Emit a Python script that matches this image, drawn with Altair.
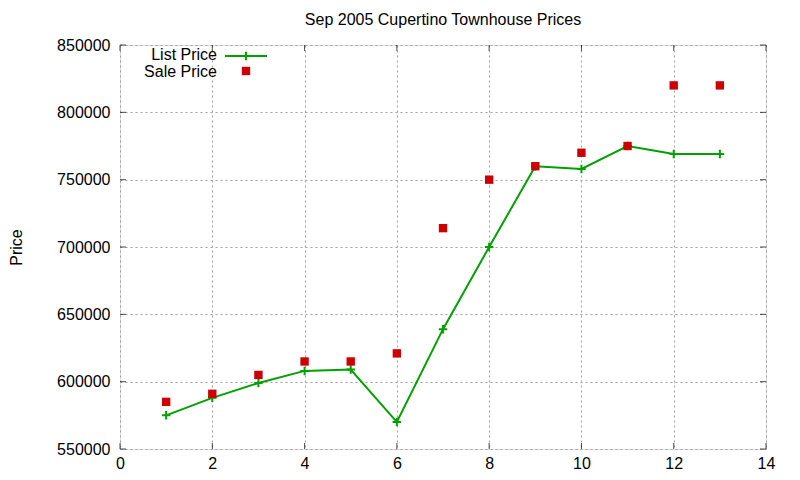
import altair as alt
import pandas as pd

# ---- data ----
lots = [1, 2, 3, 4, 5, 6, 7, 8, 9, 10, 11, 12, 13]
list_price = [575000, 588000, 599000, 608000, 609000, 570000, 639000,
              700000, 760000, 758000, 775000, 769000, 769000]
sale_price = [585000, 591000, 605000, 615000, 615000, 621000, 714000,
              750000, 760000, 770000, 775000, 820000, 820000]
x_ticks = [0, 2, 4, 6, 8, 10, 12, 14]
y_ticks = [550000, 600000, 650000, 700000, 750000, 800000, 850000]
series_names = ["List Price", "Sale Price"]

W, H = 646, 404
FONT = "Liberation Sans"
FS = 16
GREEN = "#00a000"
RED = "#cc0000"
PLUS = "M-1,0L1,0M0,-1L0,1"

df = pd.DataFrame({"x": lots, "list": list_price, "sale": sale_price})
xt = pd.DataFrame({"v": x_ticks})
yt = pd.DataFrame({"v": y_ticks})

xscale = alt.Scale(domain=[0, 14], nice=False, zero=False)
yscale = alt.Scale(domain=[550000, 850000], nice=False, zero=False)

grid_axis = dict(grid=True, gridColor="#a0a0a0", gridDash=[2, 3], gridWidth=1,
                 ticks=False, domain=False, labelFlush=False, labelOverlap=False,
                 labelFont=FONT, labelFontSize=FS,
                 labelColor="#000000", titleFont=FONT, titleFontSize=FS,
                 titleFontWeight="normal", titleColor="#000000")

base = alt.Chart(df)

line = base.mark_line(color=GREEN, strokeWidth=2).encode(
    x=alt.X("x:Q", scale=xscale,
            axis=alt.Axis(values=x_ticks, format="d", title=None, labelPadding=6,
                          **grid_axis)),
    y=alt.Y("list:Q", scale=yscale,
            axis=alt.Axis(values=y_ticks, format="d", title="Price", labelPadding=10,
                          titlePadding=32, **grid_axis)),
)
plus = base.mark_point(shape=PLUS, filled=False, color=GREEN, strokeWidth=2,
                       size=72, opacity=1).encode(
    x=alt.X("x:Q", scale=xscale), y=alt.Y("list:Q", scale=yscale))
squares = base.mark_square(color=RED, size=70, opacity=1).encode(
    x=alt.X("x:Q", scale=xscale), y=alt.Y("sale:Q", scale=yscale))

# inward mirrored ticks (gnuplot style)
TL = 6
tb = alt.Chart(xt).mark_tick(orient="vertical", color="black", thickness=1, size=TL).encode(
    x=alt.X("v:Q", scale=xscale), y=alt.value(H - TL / 2))
tt = alt.Chart(xt).mark_tick(orient="vertical", color="black", thickness=1, size=TL).encode(
    x=alt.X("v:Q", scale=xscale), y=alt.value(TL / 2))
tl = alt.Chart(yt).mark_tick(orient="horizontal", color="black", thickness=1, size=TL).encode(
    y=alt.Y("v:Q", scale=yscale), x=alt.value(TL / 2))
tr = alt.Chart(yt).mark_tick(orient="horizontal", color="black", thickness=1, size=TL).encode(
    y=alt.Y("v:Q", scale=yscale), x=alt.value(W - TL / 2))

# manual legend (label, then sample, gnuplot style)
leg1 = pd.DataFrame({"t": [series_names[0]]})
leg2 = pd.DataFrame({"t": [series_names[1]]})
lt1 = alt.Chart(leg1).mark_text(align="right", baseline="middle", font=FONT,
                                fontSize=FS, color="black").encode(
    x=alt.value(97), y=alt.value(10), text="t:N")
lt2 = alt.Chart(leg2).mark_text(align="right", baseline="middle", font=FONT,
                                fontSize=FS, color="black").encode(
    x=alt.value(97), y=alt.value(27), text="t:N")
lrule = alt.Chart(leg1).mark_rule(color=GREEN, strokeWidth=2).encode(
    x=alt.value(105), x2=alt.value(147), y=alt.value(11))
lplus = alt.Chart(leg1).mark_point(shape=PLUS, filled=False, color=GREEN,
                                   strokeWidth=2, size=72, opacity=1).encode(
    x=alt.value(126), y=alt.value(11))
lsq = alt.Chart(leg2).mark_square(color=RED, size=70, opacity=1).encode(
    x=alt.value(126), y=alt.value(26))

chart = alt.layer(line, plus, squares, tb, tt, tl, tr,
                  lt1, lt2, lrule, lplus, lsq).properties(
    width=W, height=H,
    title=alt.Title("Sep 2005 Cupertino Townhouse Prices", font=FONT, fontSize=FS,
                    fontWeight="normal", color="black", anchor="middle", offset=9),
    autosize=alt.AutoSizeParams(type="none"),
    padding={"left": 112, "top": 37, "right": 20, "bottom": 30},
).configure_view(stroke="black", strokeWidth=1.2).configure(background="white")

chart.save("out.html", embed_options={"renderer": "svg", "actions": False})
